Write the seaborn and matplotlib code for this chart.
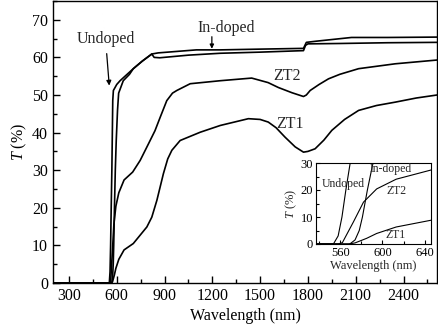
import matplotlib
matplotlib.use("Agg")
import matplotlib.pyplot as plt
from matplotlib.ticker import MultipleLocator
import seaborn as sns
import pandas as pd

sns.set_theme(style="white")
plt.rcParams['font.family'] = ['Liberation Serif', 'DejaVu Serif']
plt.rcParams['mathtext.fontset'] = 'custom'
plt.rcParams['mathtext.rm'] = 'Liberation Serif'
plt.rcParams['mathtext.it'] = 'Liberation Serif:italic'

# ---------------- data ----------------
undoped_wl = [200, 553.5, 558, 561.6, 565.3, 569.4, 575, 579, 600, 621, 665, 704, 760, 820, 835,
              870, 1050, 1250, 1500, 1772, 1785, 1800, 2000, 2300, 2610]
undoped_T = [0, 0, 3, 10, 20, 30, 48.5, 51.2, 52.8, 53.8, 55.5, 57, 59, 60.9, 60.0,
             59.9, 60.6, 61.1, 61.4, 61.8, 63.2, 63.6, 63.7, 63.9, 64.0]

indoped_wl = [200, 569, 574, 578, 581, 585.7, 591, 597, 605, 612, 641, 680, 704,
              760, 820, 860, 1100, 1250, 1500, 1772, 1790, 1850, 2073, 2300, 2610]
indoped_T = [0, 0, 1.5, 5, 10, 20, 30, 38, 46, 50.5, 53.8, 55.5, 57,
             59, 60.9, 61.2, 62.0, 62.0, 62.2, 62.4, 64.0, 64.3, 65.3, 65.3, 65.4]

zt2_wl = [200, 558, 562, 572.5, 582, 594.5, 613, 646, 700, 747, 799, 840, 872, 914, 950,
          977, 1061, 1250, 1447, 1550, 1614, 1700, 1772, 1790, 1814, 1870, 1929, 2000,
          2118, 2348, 2610]
zt2_T = [0, 0, 0.5, 8.2, 15.5, 20.4, 24, 27.4, 29.5, 32.6, 37, 40.5, 44, 48.5, 50.5,
         51.2, 53, 53.8, 54.5, 53.3, 52, 50.6, 49.6, 50.0, 51.2, 52.8, 54.3, 55.5,
         57, 58.3, 59.3]

zt1_wl = [200, 568, 574, 585, 594.5, 613, 646, 704, 789, 820, 852, 893, 920, 946, 998,
          1124, 1250, 1426, 1500, 1551, 1600, 1656, 1720, 1772, 1800, 1845, 1900, 1950,
          2030, 2118, 2230, 2348, 2480, 2610]
zt1_T = [0, 0, 0.4, 2.1, 3.9, 6.3, 8.8, 10.5, 14.9, 17.5, 22, 29.1, 33, 35.3, 37.9,
         40.1, 41.9, 43.7, 43.5, 42.8, 41.3, 38.8, 36.2, 34.8, 35.0, 35.7, 38, 40.6,
         43.5, 45.9, 47.2, 48.1, 49.2, 50.0]

series = {"Undoped": (undoped_wl, undoped_T), "In-doped": (indoped_wl, indoped_T),
          "ZT2": (zt2_wl, zt2_T), "ZT1": (zt1_wl, zt1_T)}

main_xticks = [300, 600, 900, 1200, 1500, 1800, 2100, 2400]
main_yticks = [0, 10, 20, 30, 40, 50, 60, 70]
inset_xticks = [560, 600, 640]
inset_yticks = [0, 10, 20, 30]

# ---------------- figure ----------------
fig = plt.figure(figsize=(4.38, 3.31), dpi=100)
ax = fig.add_axes([53/438, 48/331, 384/438, 282/331])
axi = fig.add_axes([316/438, 87/331, 115/438, 81/331])

for name, (wl, T) in series.items():
    df = pd.DataFrame({"wl": wl, "T": T})
    sns.lineplot(data=df, x="wl", y="T", ax=ax, color="black", lw=1.2,
                 estimator=None, sort=False)
    sns.lineplot(data=df, x="wl", y="T", ax=axi, color="black", lw=0.8,
                 estimator=None, sort=False)

def style(a, fs, major_len, minor_len, lw):
    a.set_facecolor("white")
    for s in a.spines.values():
        s.set_color("black")
        s.set_linewidth(lw)
        s.set_visible(True)
    a.tick_params(which="both", direction="in", colors="black", labelsize=fs,
                  top=False, right=False, bottom=True, left=True, width=lw)
    a.tick_params(which="major", length=major_len)
    a.tick_params(which="minor", length=minor_len)

style(ax, 11.5, 5, 3, 1.0)
ax.set_xlim(200, 2610)
ax.set_ylim(0, 75)
ax.set_xticks(main_xticks)
ax.set_yticks(main_yticks)
ax.xaxis.set_minor_locator(MultipleLocator(150))
ax.yaxis.set_minor_locator(MultipleLocator(5))
ax.set_xlabel("Wavelength (nm)", fontsize=11.5, color="black", labelpad=3)
ax.set_ylabel("$T$ (%)", fontsize=11.5, color="black", labelpad=2)

ax.text(533, 65, "Undoped", fontsize=11.5, ha="center", va="center")
ax.annotate("", xy=(553, 52.5), xytext=(537, 61),
            arrowprops=dict(arrowstyle="-|>", color="black", lw=0.9,
                            mutation_scale=7, shrinkA=0, shrinkB=0))
ax.text(1287, 67.9, "In-doped", fontsize=11.5, ha="center", va="center")
ax.annotate("", xy=(1197, 62.3), xytext=(1197, 65.5),
            arrowprops=dict(arrowstyle="-|>", color="black", lw=0.9,
                            mutation_scale=6, shrinkA=0, shrinkB=0))
ax.text(1667, 55.0, "ZT2", fontsize=11.5, ha="center", va="center")
ax.text(1688, 42.3, "ZT1", fontsize=11.5, ha="center", va="center")

style(axi, 9, 3, 2, 0.8)
axi.set_xlim(537, 646)
axi.set_ylim(0, 30)
axi.set_xticks(inset_xticks)
axi.set_yticks(inset_yticks)
axi.xaxis.set_minor_locator(MultipleLocator(20))
axi.yaxis.set_minor_locator(MultipleLocator(5))
axi.tick_params(pad=2)
axi.set_xlabel("Wavelength (nm)", fontsize=9, labelpad=1)
axi.set_ylabel("$T$ (%)", fontsize=9, labelpad=1)
axi.text(542.5, 22.2, "Undoped", fontsize=8.5, ha="left", va="center")
axi.text(588, 27.6, "In-doped", fontsize=8.5, ha="left", va="center")
axi.text(604, 19.8, "ZT2", fontsize=8.5, ha="left", va="center")
axi.text(602.4, 3.3, "ZT1", fontsize=8.5, ha="left", va="center")

fig.savefig("out.png", dpi=100, facecolor="white")
